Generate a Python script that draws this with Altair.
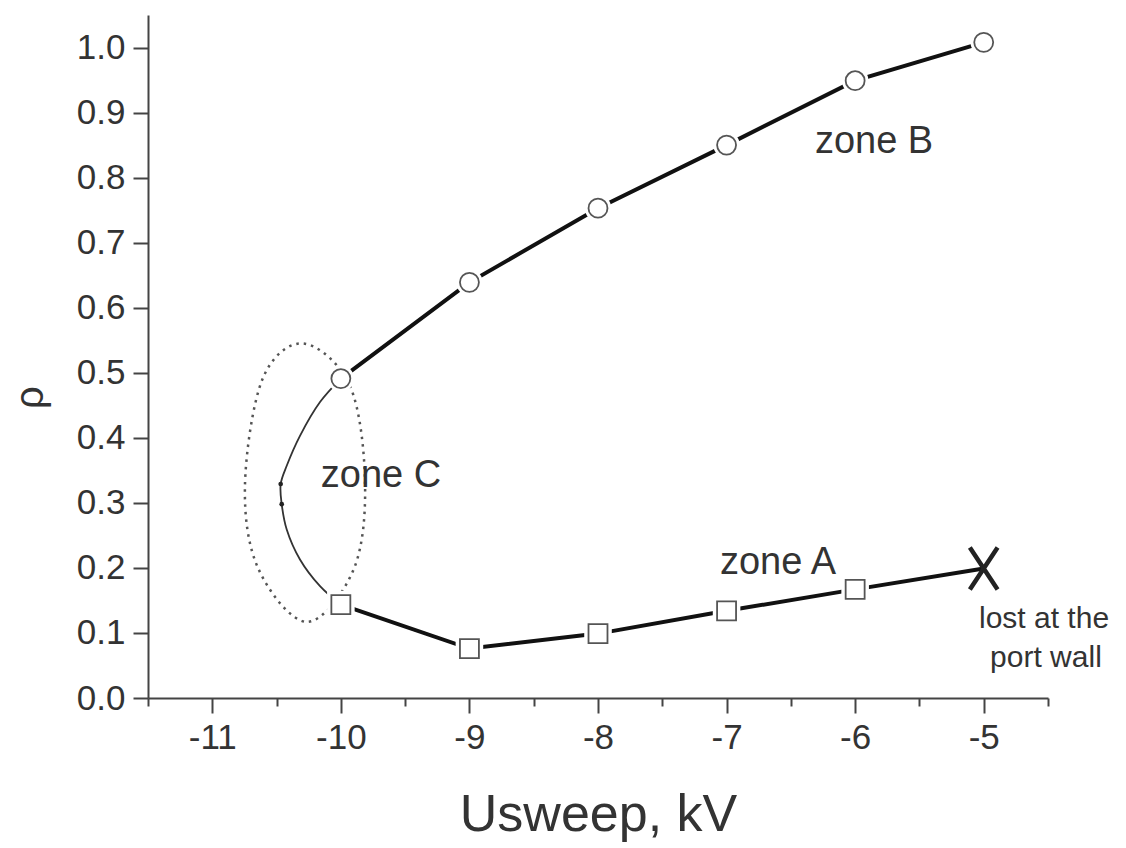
import altair as alt
import pandas as pd

# ---- data ----
zone_b_x = [-10, -9, -8, -7, -6, -5]
zone_b_y = [0.491, 0.639, 0.753, 0.850, 0.949, 1.008]

zone_a_x = [-10, -9, -8, -7, -6]
zone_a_y = [0.1435, 0.076, 0.099, 0.134, 0.167]

lost_x = [-5]
lost_y = [0.199]

# zone C connecting curve
curve_x = [-10.0, -10.162, -10.318, -10.421, -10.468, -10.460, -10.421, -10.318, -10.162, -10.0]
curve_y = [0.491, 0.455, 0.403, 0.357, 0.329, 0.298, 0.259, 0.213, 0.172, 0.1435]

# small arrow dots on the curve
arrow_x = [-10.468, -10.460]
arrow_y = [0.329, 0.298]

# dotted ellipse outline (points read around the ellipse)
ell_x = [-10.294, -9.93, -9.812, -9.90, -10.263, -10.64, -10.746, -10.61]
ell_y = [0.545, 0.48, 0.332, 0.198, 0.117, 0.198, 0.326, 0.49]

# annotations
ann_text = ["zone B", "zone C", "zone A"]
ann_x = [-5.853, -9.688, -6.60]
ann_y = [0.838, 0.324, 0.190]

note_text = ["lost at the", "port wall"]
note_x = [-4.531, -4.516]
note_y = [0.108, 0.048]

x_ticks = [-11.5, -11, -10.5, -10, -9.5, -9, -8.5, -8, -7.5, -7, -6.5, -6, -5.5, -5, -4.5]
y_ticks = [round(i * 0.05, 2) for i in range(22)]

# ---- frames ----
df_b = pd.DataFrame({"x": zone_b_x, "y": zone_b_y})
df_a = pd.DataFrame({"x": zone_a_x, "y": zone_a_y})
df_aline = pd.DataFrame({"x": zone_a_x + lost_x, "y": zone_a_y + lost_y})
df_lost = pd.DataFrame({"x": lost_x, "y": lost_y})
df_curve = pd.DataFrame({"x": curve_x, "y": curve_y, "o": list(range(len(curve_x)))})
df_arrow = pd.DataFrame({"x": arrow_x, "y": arrow_y})
df_ell = pd.DataFrame({"x": ell_x, "y": ell_y, "o": list(range(len(ell_x)))})
df_ann = pd.DataFrame({"x": ann_x, "y": ann_y, "t": ann_text})
df_note = pd.DataFrame({"x": note_x, "y": note_y, "t": note_text})

FONT = "Liberation Sans"
AXC = "#444444"

xscale = alt.Scale(domain=[-11.5, -4.5], nice=False, zero=False)
yscale = alt.Scale(domain=[0, 1.05], nice=False, zero=False)

xaxis = alt.Axis(
    values=x_ticks,
    title="Usweep, kV",
    titleFont=FONT, titleFontSize=52, titleFontWeight="normal", titleColor="#333333",
    titlePadding=34,
    labelExpr="datum.value % 1 === 0 ? ('' + datum.value) : ''",
    labelFont=FONT, labelFontSize=35, labelColor="#333333", labelPadding=7,
    tickSize={"condition": {"test": "datum.value % 1 !== 0", "value": 8}, "value": 15},
    tickColor=AXC, tickWidth=2, domainColor=AXC, domainWidth=2, grid=False,
    labelFlush=False, labelOverlap=False,
)
yaxis = alt.Axis(
    values=y_ticks,
    title="ρ",
    titleFont=FONT, titleFontSize=40, titleFontWeight="normal", titleColor="#333333",
    titleX=-118, titleY=382, titleAngle=270, titleAlign="center", titleBaseline="middle",
    labelExpr="abs(datum.value*10 - round(datum.value*10)) < 0.001 ? format(datum.value, '.1f') : ''",
    labelFont=FONT, labelFontSize=35, labelColor="#333333", labelPadding=8,
    tickSize={"condition": {"test": "abs(datum.value*10 - round(datum.value*10)) > 0.001", "value": 7}, "value": 15},
    tickColor=AXC, tickWidth=2, domainColor=AXC, domainWidth=2, grid=False,
    labelFlush=False, labelOverlap=False,
)

X = alt.X("x:Q", scale=xscale, axis=xaxis)
Y = alt.Y("y:Q", scale=yscale, axis=yaxis)
Xn = alt.X("x:Q", scale=xscale)
Yn = alt.Y("y:Q", scale=yscale)

base_axes = alt.Chart(df_b).mark_point(opacity=0).encode(x=X, y=Y)

ellipse = alt.Chart(df_ell).mark_line(
    interpolate="cardinal-closed", color="#555555", strokeWidth=2.5, strokeDash=[2.5, 5], clip=False
).encode(x=Xn, y=Yn, order="o:Q")

curve = alt.Chart(df_curve).mark_line(
    interpolate="catmull-rom", color="#333333", strokeWidth=1.8
).encode(x=Xn, y=Yn, order="o:Q")

arrows = alt.Chart(df_arrow).mark_point(
    filled=True, color="#222222", size=22, opacity=1
).encode(x=Xn, y=Yn)

line_b = alt.Chart(df_b).mark_line(color="#111111", strokeWidth=4).encode(x=Xn, y=Yn)
line_a = alt.Chart(df_aline).mark_line(color="#111111", strokeWidth=4).encode(x=Xn, y=Yn)

halo_b = alt.Chart(df_b).mark_point(shape="circle", filled=True, color="white", size=700, opacity=1).encode(x=Xn, y=Yn)
halo_a = alt.Chart(df_a).mark_point(shape="square", filled=True, color="white", size=760, opacity=1).encode(x=Xn, y=Yn)

pts_b = alt.Chart(df_b).mark_point(
    shape="circle", filled=False, stroke="#555555", strokeWidth=1.8, size=360, opacity=1
).encode(x=Xn, y=Yn)
pts_a = alt.Chart(df_a).mark_point(
    shape="square", filled=False, stroke="#555555", strokeWidth=1.8, size=360, opacity=1
).encode(x=Xn, y=Yn)

lost = alt.Chart(df_lost).mark_point(
    shape="M-0.66,-1L0.66,1M0.66,-1L-0.66,1", filled=False, stroke="#222222",
    strokeWidth=4.5, size=1764, opacity=1
).encode(x=Xn, y=Yn)

ann = alt.Chart(df_ann).mark_text(
    font=FONT, fontSize=38, color="#333333", align="center", baseline="alphabetic"
).encode(x=Xn, y=Yn, text="t:N")

note = alt.Chart(df_note).mark_text(
    font=FONT, fontSize=30, color="#333333", align="center", baseline="alphabetic"
).encode(x=Xn, y=Yn, text="t:N")

chart = alt.layer(
    base_axes, ellipse, curve, arrows, line_b, line_a, halo_b, halo_a, pts_b, pts_a, lost, ann, note
).properties(
    width=900, height=683,
    autosize=alt.AutoSizeParams(type="none"),
    padding={"left": 148, "top": 15, "right": 78, "bottom": 150},
    background="white",
).configure_view(stroke=None)

chart.save("out.html", embed_options={"renderer": "svg", "actions": False})
